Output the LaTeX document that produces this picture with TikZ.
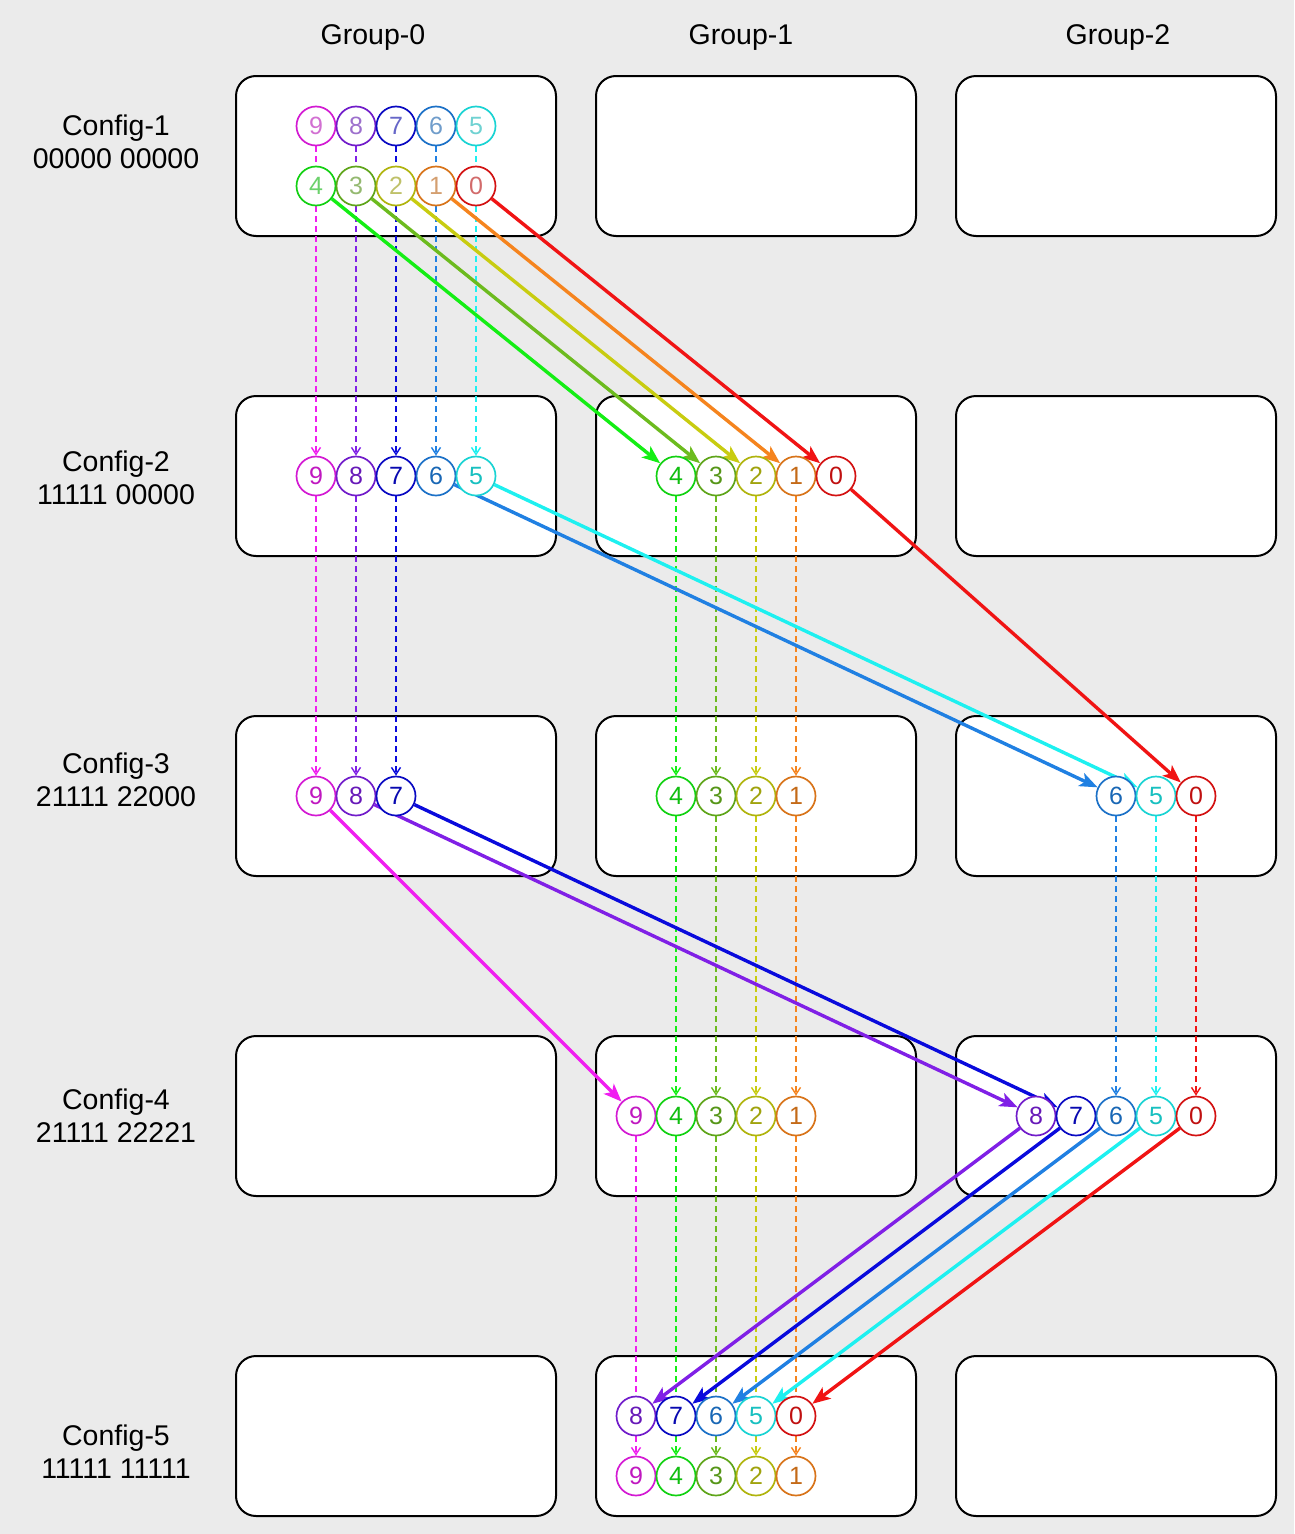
\documentclass[tikz,border=0pt]{standalone}
\usepackage{fontspec}
\setmainfont{Liberation Sans}
\usetikzlibrary{arrows.meta}
\definecolor{bgc}{HTML}{EBEBEB}
\definecolor{k0}{HTML}{F01414}
\definecolor{k1}{HTML}{F5841E}
\definecolor{k2}{HTML}{C8CC10}
\definecolor{k3}{HTML}{6CBB1E}
\definecolor{k4}{HTML}{14EE14}
\definecolor{k5}{HTML}{1EF0F0}
\definecolor{k6}{HTML}{2080E2}
\definecolor{k7}{HTML}{0A0ADC}
\definecolor{k8}{HTML}{8020E6}
\definecolor{k9}{HTML}{F01EF0}
\pgfdeclarelayer{boxes}
\pgfdeclarelayer{links}
\pgfsetlayers{boxes,links,main}
\begin{document}
\begin{tikzpicture}[x=1pt,y=-1pt,
  grpbox/.style={draw=black, line width=2pt, fill=white, rounded corners=20pt},
  bit/.style={circle, draw=#1!88!black, line width=1.7pt, fill=white,
    minimum size=39pt, inner sep=0pt, text=#1!80!black,
    font=\fontsize{25}{25}\selectfont},
  bitlight/.style={bit=#1, text=#1!55!white!85!black},
  lbl/.style={font=\fontsize{28.5}{33}\selectfont, align=center, inner sep=0pt},
  mv/.style={draw=#1, line width=3.4pt, -{Stealth[length=18pt,width=14pt,inset=4.5pt]}},
  kp/.style={draw=#1, line width=1.6pt, dash pattern=on 6pt off 4pt,
    -{Straight Barb[length=7pt,width=9pt,line width=1.4pt]}}
]
\begin{pgfonlayer}{boxes}
\fill[bgc] (0,0) rectangle (1294,1534);
\foreach \r in {0,1,2,3,4}{
  \foreach \c in {0,1,2}{
    \draw[grpbox] ({236+360*\c},{76+320*\r}) rectangle ({556+360*\c},{236+320*\r});
  }
}
\end{pgfonlayer}
\useasboundingbox (0,0) rectangle (1294,1534);

% group and config labels
\node[lbl] (g0) at (373,38) {Group-0};
\node[lbl] (g1) at (741,38) {Group-1};
\node[lbl] (g2) at (1118,38) {Group-2};
\node[lbl] (cf1) at (116,141.5) {Config-1\\00000 00000};
\node[lbl] (cf2) at (116,477.5) {Config-2\\11111 00000};
\node[lbl] (cf3) at (116,779.5) {Config-3\\21111 22000};
\node[lbl] (cf4) at (116,1115.5) {Config-4\\21111 22221};
\node[lbl] (cf5) at (116,1451.5) {Config-5\\11111 11111};

% Config-1
\foreach \d/\x in {9/316,8/356,7/396,6/436,5/476}{
  \node[bitlight=k\d] (a\d) at (\x,126) {\d};}
\foreach \d/\x in {4/316,3/356,2/396,1/436,0/476}{
  \node[bitlight=k\d] (a\d) at (\x,186) {\d};}
% Config-2
\foreach \d/\x in {9/316,8/356,7/396,6/436,5/476,4/676,3/716,2/756,1/796,0/836}{
  \node[bit=k\d] (b\d) at (\x,476) {\d};}
% Config-3
\foreach \d/\x in {9/316,8/356,7/396,4/676,3/716,2/756,1/796,6/1116,5/1156,0/1196}{
  \node[bit=k\d] (c\d) at (\x,796) {\d};}
% Config-4
\foreach \d/\x in {9/636,4/676,3/716,2/756,1/796,8/1036,7/1076,6/1116,5/1156,0/1196}{
  \node[bit=k\d] (d\d) at (\x,1116) {\d};}
% Config-5
\foreach \d/\x in {8/636,7/676,6/716,5/756,0/796}{
  \node[bit=k\d] (e\d) at (\x,1416) {\d};}
\foreach \d/\x in {9/636,4/676,3/716,2/756,1/796}{
  \node[bit=k\d] (e\d) at (\x,1476) {\d};}

\begin{pgfonlayer}{links}
% dashed (kept) moves
\foreach \d in {9,8,7,6,5}{\draw[kp=k\d] (a\d) -- (b\d);}
\foreach \d in {9,8,7,4,3,2,1}{\draw[kp=k\d] (b\d) -- (c\d);}
\foreach \d in {4,3,2,1,6,5,0}{\draw[kp=k\d] (c\d) -- (d\d);}
\foreach \d in {9,4,3,2,1}{\draw[kp=k\d] (d\d) -- (e\d);}
% solid (migrated) moves
\foreach \d in {4,3,2,1,0}{\draw[mv=k\d] (a\d) -- (b\d);}
\foreach \d in {6,5,0}{\draw[mv=k\d] (b\d) -- (c\d);}
\foreach \d in {9,8,7}{\draw[mv=k\d] (c\d) -- (d\d);}
\foreach \d in {8,7,6,5,0}{\draw[mv=k\d] (d\d) -- (e\d);}
\end{pgfonlayer}
\end{tikzpicture}
\end{document}
